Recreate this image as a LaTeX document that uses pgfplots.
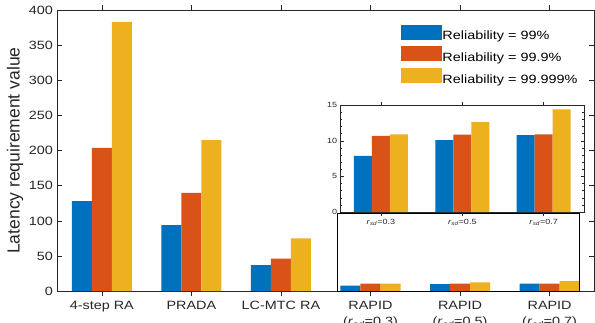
\documentclass[border=0pt]{standalone}
\usepackage{pgfplots}
\pgfplotsset{compat=1.18}
\usepackage{fontspec}
\setmainfont{Liberation Sans}
\newfontfamily\wide[FakeStretch=1.2]{Liberation Sans}
\definecolor{mblue}{HTML}{0072BD}
\definecolor{morange}{HTML}{D95319}
\definecolor{myellow}{HTML}{EDB120}
\definecolor{axgray}{HTML}{262626}
\begin{document}
\begin{tikzpicture}
\begin{axis}[
  scale only axis, width=537bp, height=281bp,
  xmin=0.5, xmax=6.5, ymin=0, ymax=400,
  xtick={1,2,3,4,5,6},
  xticklabels={4-step RA, PRADA, LC-MTC RA,
    {RAPID\\(\textit{r}\textsubscript{\textit{sd}}=0.3)},
    {RAPID\\(\textit{r}\textsubscript{\textit{sd}}=0.5)},
    {RAPID\\(\textit{r}\textsubscript{\textit{sd}}=0.7)}},
  ytick={0,50,...,400},
  tick align=inside, major tick length=5bp,
  axis line style={axgray, line width=0.6bp},
  every tick/.style={axgray, line width=0.6bp},
  ticklabel style={font=\fontsize{12bp}{16bp}\selectfont\wide, text=axgray},
  /pgf/number format/assume math mode=true,
  xticklabel style={align=center, anchor=north, inner sep=0pt, yshift=-4.5bp},
  yticklabel style={anchor=east, inner sep=0pt, xshift=-4bp},
  ylabel={Latency requirement value},
  ylabel style={font=\fontsize{17.5bp}{20bp}\selectfont, text=axgray, at={(axis description cs:-0.078,0.5)}, anchor=center},
  ybar=0pt, bar width=20bp,
  every axis plot/.append style={draw=none},
  every axis plot post/.append style={legend image code/.code={\fill[##1] (0bp,-3.3bp) rectangle (41bp,11.7bp);}},
  legend cell align=left,
  legend style={at={(0.6406,0.949)}, anchor=north west, draw=none, fill=none, inner sep=0pt,
    row sep=5bp, font=\fontsize{12bp}{14bp}\selectfont\wide, text=black,
    nodes={inner sep=0pt},
    /tikz/every even column/.append style={column sep=3bp}},
]
\addplot[fill=mblue] coordinates {(1,128) (2,94) (3,37) (4,7.9) (5,10.1) (6,10.8)};
\addplot[fill=morange] coordinates {(1,204) (2,140) (3,46.5) (4,10.7) (5,10.85) (6,10.9)};
\addplot[fill=myellow] coordinates {(1,383) (2,215) (3,75) (4,10.9) (5,12.6) (6,14.4)};
\legend{Reliability = 99\%, Reliability = 99.9\%, Reliability = 99.999\%}
\draw[black, line width=1.2bp] (axis cs:3.633,0) rectangle (axis cs:6.333,110);
\end{axis}
\begin{axis}[
  at={(283bp,79bp)}, anchor=south west,
  scale only axis, width=244bp, height=107bp,
  xmin=0.5, xmax=3.5, ymin=0, ymax=15,
  xtick={1,2,3},
  xticklabels={{\textit{r}\textsubscript{\textit{sd}}=0.3},{\textit{r}\textsubscript{\textit{sd}}=0.5},{\textit{r}\textsubscript{\textit{sd}}=0.7}},
  ytick={0,5,10,15}, minor y tick num=4,
  tick align=inside, major tick length=3.5bp, minor tick length=2bp,
  axis line style={axgray, line width=0.6bp},
  every tick/.style={axgray, line width=0.5bp},
  ticklabel style={font=\fontsize{7.5bp}{9bp}\selectfont\wide, text=axgray},
  /pgf/number format/assume math mode=true,
  xticklabel style={anchor=north, inner sep=0pt, yshift=-3bp},
  yticklabel style={anchor=east, inner sep=0pt, xshift=-3bp},
  axis background/.style={fill=white},
  ybar=0pt, bar width=18bp,
  every axis plot/.append style={draw=none},
]
\addplot[fill=mblue] coordinates {(1,7.9) (2,10.1) (3,10.8)};
\addplot[fill=morange] coordinates {(1,10.7) (2,10.85) (3,10.9)};
\addplot[fill=myellow] coordinates {(1,10.9) (2,12.6) (3,14.4)};
\end{axis}
\pgfresetboundingbox
\useasboundingbox (-57bp,-31bp) rectangle (537.6bp,291bp);
\end{tikzpicture}
\end{document}
